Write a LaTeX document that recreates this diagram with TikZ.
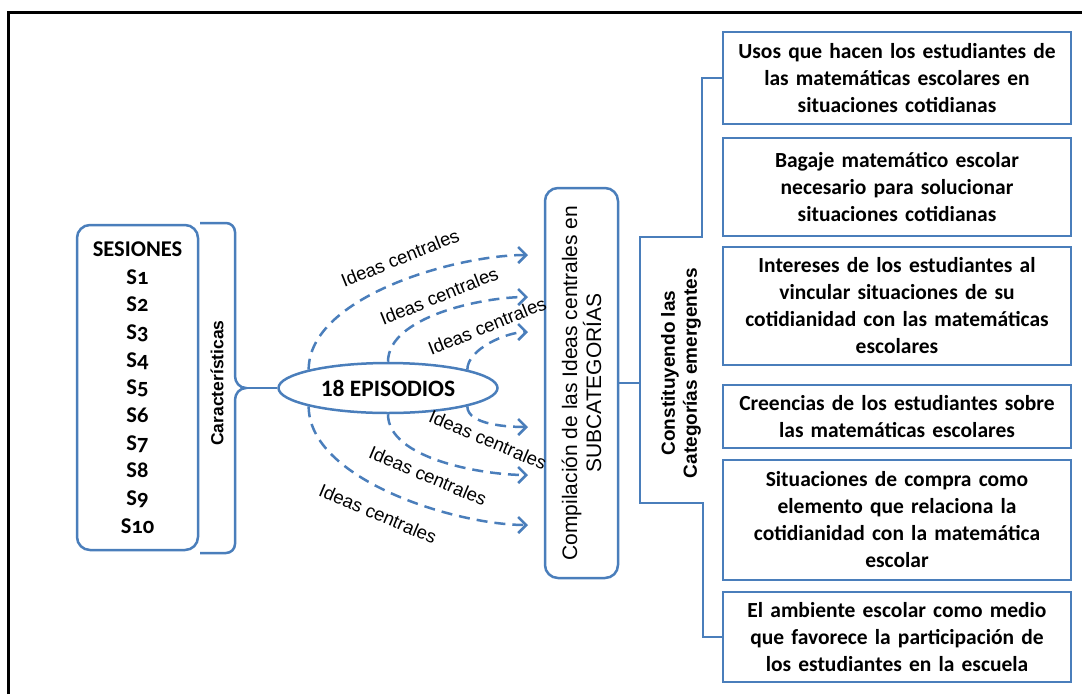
\documentclass[tikz,border=0pt]{standalone}
\usepackage{fontspec}
\setmainfont{Carlito}
\newfontfamily\arialfont{Liberation Sans}
\newfontfamily\oldnums{Carlito}[Numbers=OldStyle]
\usetikzlibrary{shapes.geometric}
\usetikzlibrary{arrows.meta}
\definecolor{boxblue}{RGB}{74,126,187}

\begin{document}
\begin{tikzpicture}[x=1pt,y=-1pt,
                    cat box/.style={
                        draw=boxblue,
                        line width=2.5pt,
                        minimum width=348pt,
                        text width=344pt,
                        align=center,
                        inner sep=0pt,
                        font=\bfseries\fontsize{21.5}{27}\selectfont},
                    round box/.style={draw=boxblue, line width=2.5pt, rounded corners=13pt, inner sep=0pt},
                    link line/.style={draw=boxblue, line width=2.5pt},
                    idea arrow/.style={boxblue, line width=2.5pt, dash pattern=on 11pt off 7pt, looseness=0.75, -{Straight Barb[length=8pt,width=16pt]}},
                    idea label/.style={font=\arialfont\fontsize{18.5}{18.5}\selectfont, inner sep=0pt}]
\useasboundingbox (0,0) rectangle (1082,694);
\draw[line width=3pt] (8,694) -- (8,12) -- (1082,12); % frame, open at right and bottom
% left part: sessions and episodes
\node[round box, minimum width=121pt, minimum height=325pt, align=center, font=\oldnums\bfseries\fontsize{22.5}{27.7}\selectfont] (sesiones) at (137.5,387.5) {SESIONES\\S1\\S2\\S3\\S4\\S5\\S6\\S7\\S8\\S9\\S10};
\node[rotate=90, font=\arialfont\bfseries\fontsize{17.5}{20}\selectfont] (carac) at (217,383) {Características};
\node[ellipse, draw=boxblue, line width=2.5pt, minimum width=219pt, minimum height=50pt, inner sep=0pt, font=\bfseries\fontsize{23.5}{26}\selectfont] (episodios) at (388,388) {18 EPISODIOS};
\draw[link line] (200,223) -- (226,223) to[out=0,in=90] (235,232) -- (235,376) to[out=-90,in=180] (246,388) coordinate (brace tip) to[out=180,in=90] (235,400) -- (235,544) to[out=-90,in=0] (226,553) -- (200,553); % the brace
\draw[link line] (brace tip) -- (episodios.west);
% middle part: subcategories
\node[round box, rotate=90, minimum width=390pt, minimum height=73pt, align=center, font=\arialfont\fontsize{21}{24}\selectfont] (subcat) at (581.5,383) {Compilación de las Ideas centrales en\\SUBCATEGORÍAS};
\coordinate (end 1) at (528,255);
\coordinate (end 2) at (528,297);
\coordinate (end 3) at (528,332);
\coordinate (end 4) at (528,427);
\coordinate (end 5) at (528,475);
\coordinate (end 6) at (528,525);
\draw[idea arrow] (episodios.167) to[out=90,in=180] (end 1);
\draw[idea arrow] (episodios.90) to[out=90,in=180] (end 2);
\draw[idea arrow] (episodios.13) to[out=90,in=180] (end 3);
\draw[idea arrow] (episodios.-13) to[out=-90,in=180] (end 4);
\draw[idea arrow] (episodios.-90) to[out=-90,in=180] (end 5);
\draw[idea arrow] (episodios.-167) to[out=-90,in=180] (end 6);
\node[idea label, rotate=22] (idea 1) at (400,258) {Ideas centrales};
\node[idea label, rotate=22] (idea 2) at (439,296) {Ideas centrales};
\node[idea label, rotate=22] (idea 3) at (487,326) {Ideas centrales};
\node[idea label, rotate=-23] (idea 4) at (488,440) {Ideas centrales};
\node[idea label, rotate=-23] (idea 5) at (428,476) {Ideas centrales};
\node[idea label, rotate=-23] (idea 6) at (378,514) {Ideas centrales};
% right part: emerging categories
\node[rotate=90, align=center, font=\arialfont\bfseries\fontsize{19}{22}\selectfont] (constituyendo) at (681,373) {Constituyendo las\\Categorías emergentes};
\node[cat box, minimum height=92pt] (cat 1) at (897,78) {Usos que hacen los estudiantes de\\las matemáticas escolares en\\situaciones cotidianas};
\node[cat box, minimum height=98pt] (cat 2) at (897,187) {Bagaje matemático escolar\\necesario para solucionar\\situaciones cotidianas};
\node[cat box, minimum height=118pt] (cat 3) at (897,306) {Intereses de los estudiantes al\\vincular situaciones de su\\cotidianidad con las matemáticas\\escolares};
\node[cat box, minimum height=63pt] (cat 4) at (897,416.5) {Creencias de los estudiantes sobre\\las matemáticas escolares};
\node[cat box, minimum height=120pt] (cat 5) at (897,520) {Situaciones de compra como\\elemento que relaciona la\\cotidianidad con la matemática\\escolar};
\node[cat box, minimum height=90pt] (cat 6) at (897,637) {El ambiente escolar como medio\\que favorece la participación de\\los estudiantes en la escuela};
\coordinate (spine top) at (640,237);
\coordinate (spine bottom) at (640,503);
\draw[link line] (cat 1.west) -- ++(-20,0) |- (spine top) -- (spine bottom) -- ++(63,0) |- (cat 6.west);
\draw[link line] (subcat.south) -- (subcat.south -| spine top);
\end{tikzpicture}
\end{document}
